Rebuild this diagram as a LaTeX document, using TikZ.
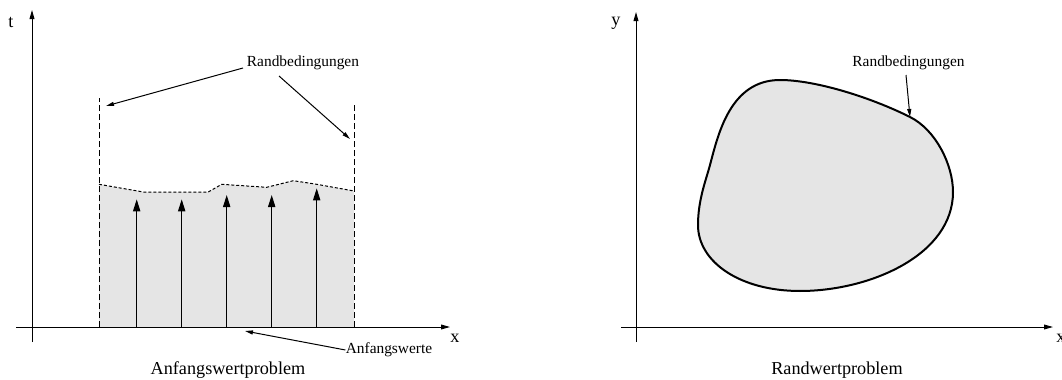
\documentclass[tikz,border=0pt]{standalone}
\usepackage{fontspec}
\setmainfont{Liberation Serif}
\usetikzlibrary{arrows.meta}
\definecolor{areagray}{RGB}{229,229,229}
\begin{document}
\begin{tikzpicture}[x=0.5pt,y=-0.5pt,
  axis/.style={line width=0.5pt,-{Triangle[length=4.5pt,width=2.4pt]}},
  ann/.style={line width=0.5pt,-{Triangle[length=4pt,width=2pt]}},
  vec/.style={line width=0.6pt,-{Triangle[length=6pt,width=3.6pt]}},
  dashv/.style={line width=0.5pt,dash pattern=on 3pt off 1.5pt},
  dashc/.style={line width=0.5pt,dash pattern=on 1.5pt off 1pt},
  big/.style={font=\fontsize{9.1}{11}\selectfont,inner sep=0pt},
  small/.style={font=\fontsize{7.7}{9}\selectfont,inner sep=0pt},
  blob/.style={line width=1pt,fill=areagray},
]
\useasboundingbox (0,0) rectangle (1062,380);

% ---------- left panel ----------
\fill[areagray] (99,327) -- (99,184.3) -- (143.3,192) -- (208.3,192) -- (221.7,184.3)
  -- (266.7,187.3) -- (293.3,180.7) -- (315,184) -- (354,191) -- (354,327) -- cycle;

\coordinate (ta) at (32,342);
\coordinate (tb) at (32,10);
\coordinate (xa) at (16,327);
\coordinate (xb) at (450,327);
\draw[axis] (ta) -- (tb);
\draw[axis] (xa) -- (xb);
\node[big] (tl) at (11,22) {t};
\node[big] (xl) at (455,338) {x};

\coordinate (lb) at (99,327);
\coordinate (lt) at (99,98);
\coordinate (rb) at (354,327);
\coordinate (rt) at (354,105);
\draw[dashv] (lb) -- (lt);
\draw[dashv] (rb) -- (rt);
\draw[dashc] (lb) -- (rb);
\draw[dashc] (99,184.3) -- (143.3,192) -- (208.3,192) -- (221.7,184.3)
  -- (266.7,187.3) -- (293.3,180.7) -- (315,184) -- (354,191);

\foreach \i/\xx/\yy in {1/136.7/199.3,2/181.7/199.3,3/226.7/195,4/271.7/195,5/316.7/188.3}{
  \coordinate (vb\i) at (\xx,327);
  \coordinate (vt\i) at (\xx,\yy);
  \draw[vec] (vb\i) -- (vt\i);
}

\node[small] (rb1) at (303,63) {Randbedingungen};
\coordinate (rb1a) at (243,68);
\coordinate (rb1b) at (279,76);
\coordinate (tipl) at (106,106);
\coordinate (tipr) at (350,139);
\draw[ann] (rb1a) -- (tipl);
\draw[ann] (rb1b) -- (tipr);

\node[small] (aw) at (389,350) {Anfangswerte};
\coordinate (awt) at (245,331);
\draw[ann] (aw.west) -- (awt);

\node[big] (cap1) at (228,370) {Anfangswertproblem};

% ---------- right panel ----------
\coordinate (ya) at (636,342);
\coordinate (yb) at (636,12);
\coordinate (x2a) at (621,327);
\coordinate (x2b) at (1053,327);
\draw[axis] (ya) -- (yb);
\draw[axis] (x2a) -- (x2b);
\node[big] (yl) at (616,23) {y};
\node[big] (x2l) at (1061,338) {x};

\draw[blob] (780,80) .. controls (815,80) and (870,97) .. (910,117)
  .. controls (936,130) and (953,165) .. (953,192)
  .. controls (953,255) and (870,291) .. (800,291)
  .. controls (740,291) and (698,262) .. (698,225)
  .. controls (698,200) and (706,180) .. (710,165)
  .. controls (718,135) and (730,80) .. (780,80) -- cycle;

\node[small] (rb2) at (908.5,63) {Randbedingungen};
\coordinate (rb2a) at (906,75);
\coordinate (tipb) at (910,117);
\draw[ann] (rb2a) -- (tipb);

\node[big] (cap2) at (837,370) {Randwertproblem};
\end{tikzpicture}
\end{document}
